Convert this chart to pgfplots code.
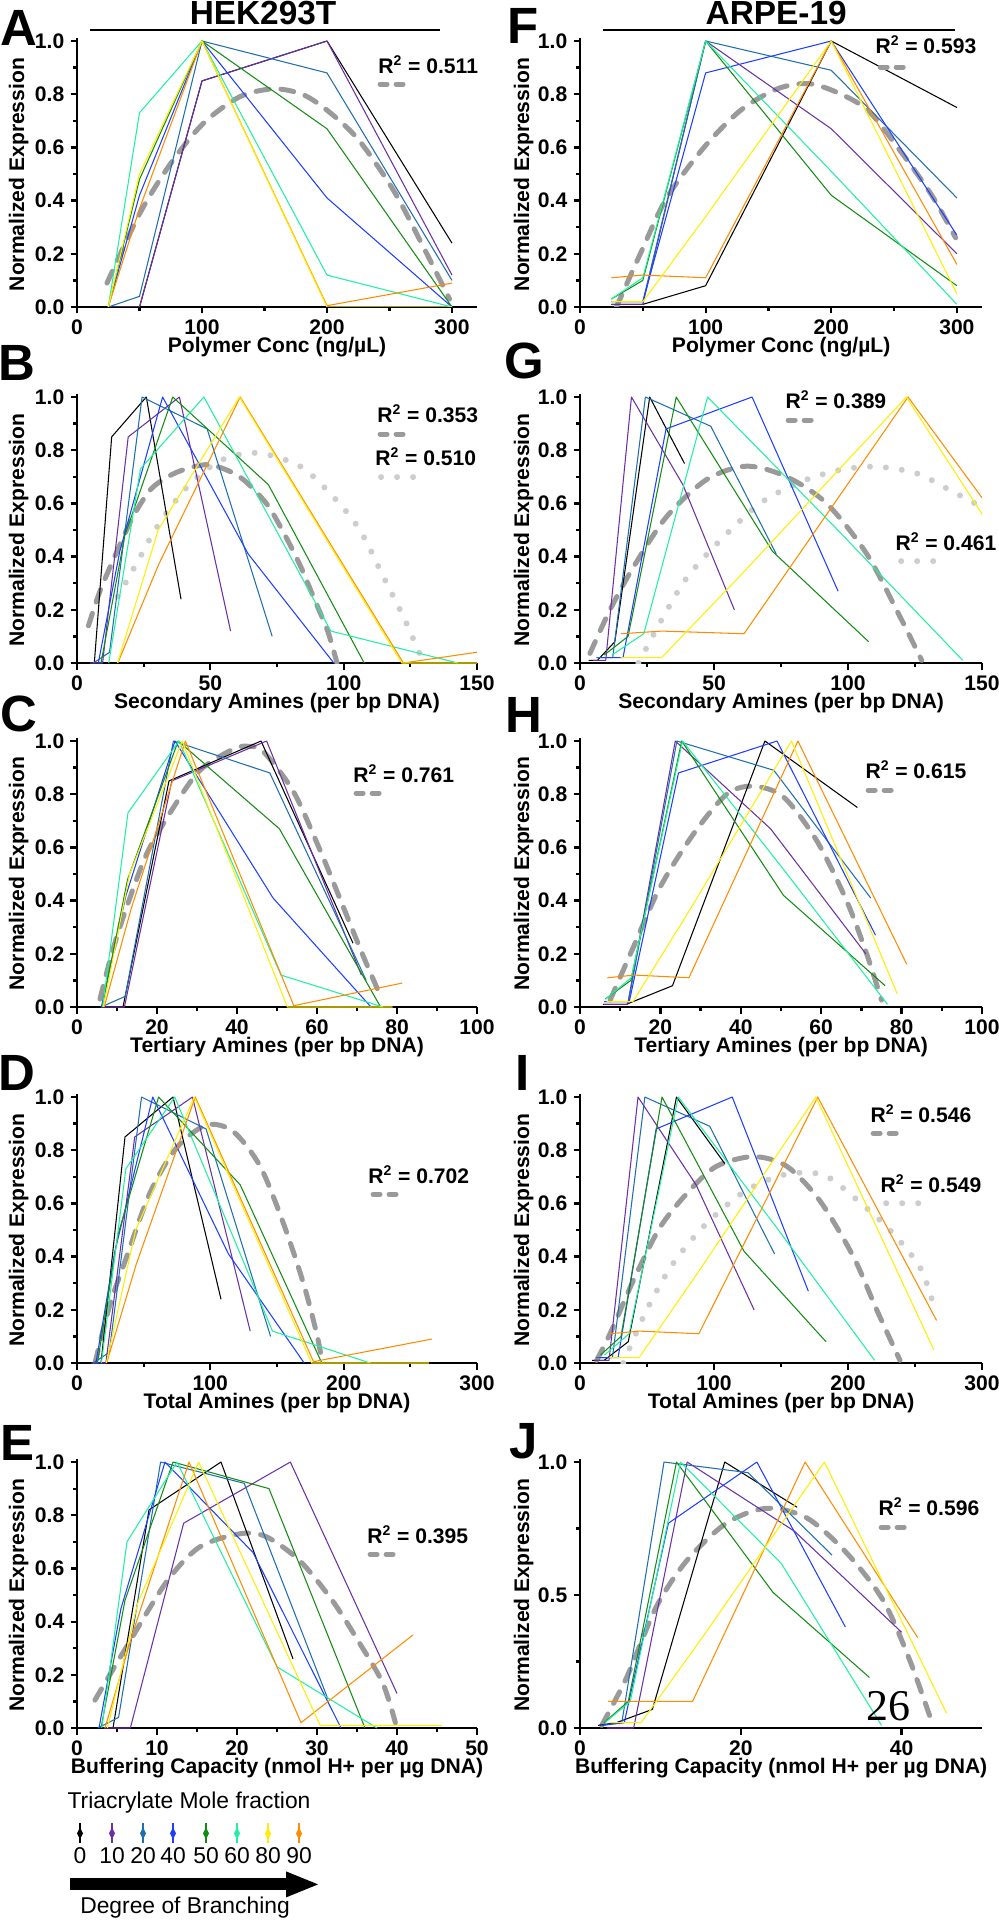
\documentclass[border=0pt]{standalone}
\usepackage{fontspec}
\setmainfont{Liberation Sans}
\newfontfamily\seriffont{Liberation Serif}
\usepackage{pgfplots}
\pgfplotsset{compat=1.18}

\definecolor{c0}{HTML}{000000}
\definecolor{c10}{HTML}{6B2FA6}
\definecolor{c20}{HTML}{1F6FB0}
\definecolor{c40}{HTML}{1F3FFF}
\definecolor{c50}{HTML}{148C14}
\definecolor{c60}{HTML}{20F0A0}
\definecolor{c80}{HTML}{FFEE00}
\definecolor{c90}{HTML}{FF8C00}
\definecolor{fitdark}{HTML}{9A9A9A}
\definecolor{fitlight}{HTML}{CDCDCD}

\newcommand{\fs}[1]{\fontsize{#1}{#1}\selectfont}

\pgfplotsset{
  panel/.style={
    scale only axis, width=8cm, height=5.373cm, anchor=south west,
    xmin=0, ymin=0, ymax=1.01,
    axis x line*=bottom, axis y line*=left,
    axis line style={-, line width=0.5mm},
    ytick={0,0.2,0.4,0.6,0.8,1.0}, minor ytick={0.1,0.3,0.5,0.7,0.9},
    tick align=outside,
    major tick length=1.3mm, minor tick length=0.8mm,
    every tick/.style={black, line width=0.45mm},
    tick label style={font=\bfseries\fs{12}},
    /pgf/number format/assume math mode=true,
    yticklabel style={/pgf/number format/fixed, /pgf/number format/fixed zerofill, /pgf/number format/precision=1},
    every axis plot/.append style={line width=0.6pt, line join=round},
  },
  fitA/.style={fitdark, line width=1mm, dash pattern=on 2.6mm off 2.4mm, line cap=round, smooth},
  fitB/.style={fitlight, line width=1.2mm, dash pattern=on 0pt off 3.2mm, line cap=round, smooth},
}

\begin{document}
\begin{tikzpicture}
\path[use as bounding box] (0,0) rectangle (19.98,-38.4);

% ---------- A: HEK293T, polymer conc
\begin{axis}[panel, at={(1.54cm,-6.14cm)}, xmax=320, xtick={0,100,200,300}, minor xtick={50,150,250}]
\addplot[fitA] coordinates {(24,0.09)(50,0.35)(75,0.54)(101,0.69)(130,0.79)(157,0.82)(180,0.80)(200,0.74)(225,0.63)(253,0.44)(275,0.245)(298,0.03)};
\addplot[c0] coordinates {(25,0)(50,0)(100,0.85)(200,1.0)(300,0.24)};
\addplot[c10] coordinates {(25,0)(50,0)(100,0.85)(200,1.0)(300,0.12)};
\addplot[c20] coordinates {(25,0)(50,0.04)(100,1.0)(200,0.88)(300,0.10)};
\addplot[c40] coordinates {(25,0)(50,0.42)(100,1.0)(200,0.41)(300,0)};
\addplot[c50] coordinates {(25,0)(50,0.48)(100,1.0)(200,0.67)(300,0)};
\addplot[c60] coordinates {(25,0)(50,0.73)(100,1.0)(200,0.12)(300,0)};
\addplot[c90] coordinates {(25,0)(50,0.37)(100,1.0)(200,0.005)(300,0.09)};
\addplot[c80] coordinates {(25,0)(50,0.50)(100,1.0)(200,0)(300,0)};
\end{axis}

% ---------- B: HEK293T, secondary amines
\begin{axis}[panel, at={(1.54cm,-13.26cm)}, xmax=150, xtick={0,50,100,150}, minor xtick={25,75,125}]
\addplot[fitB] coordinates {(15.3,0.25)(22.4,0.375)(29.9,0.51)(41.1,0.66)(53.6,0.76)(67.4,0.79)(83.6,0.74)(96.1,0.625)(106.1,0.5)(114.9,0.324)(122.4,0.174)(127.4,0.06)(130,0)};
\addplot[fitA] coordinates {(4.3,0.14)(8.6,0.27)(15,0.42)(21,0.55)(27.4,0.65)(34,0.70)(41,0.73)(50,0.745)(61,0.70)(71,0.60)(78,0.48)(84,0.36)(89,0.24)(94,0.12)(97.5,0)};
\addplot[c0] coordinates {(3.25,0)(6.5,0)(13,0.85)(26,1.0)(39,0.24)};
\addplot[c10] coordinates {(4.8,0)(9.6,0)(19.2,0.85)(38.4,1.0)(57.6,0.12)};
\addplot[c20] coordinates {(6.1,0)(12.2,0.04)(24.4,1.0)(48.8,0.88)(73.2,0.10)};
\addplot[c40] coordinates {(8.0,0)(16.05,0.42)(32.1,1.0)(64.2,0.41)(96.3,0)};
\addplot[c50] coordinates {(9.0,0)(17.95,0.48)(35.9,1.0)(71.8,0.67)(107.7,0)};
\addplot[c60] coordinates {(11.9,0)(23.8,0.73)(47.6,1.0)(95.2,0.12)(142.8,0)};
\addplot[c90] coordinates {(15.3,0)(30.6,0.37)(61.2,1.0)(122.4,0)(183.6,0.09)};
\addplot[c80] coordinates {(15.2,0)(30.45,0.50)(60.9,1.0)(121.8,0)(182.7,0)};
\end{axis}

% ---------- C: HEK293T, tertiary amines
\begin{axis}[panel, at={(1.54cm,-20.14cm)}, xmax=100, xtick={0,20,40,60,80,100}, minor xtick={10,30,50,70,90}]
\addplot[fitA] coordinates {(5.75,0.03)(8.5,0.19)(11.6,0.34)(17.4,0.575)(24.1,0.75)(30.75,0.89)(39.1,0.97)(43,0.98)(46.6,0.96)(54.1,0.81)(60.75,0.59)(66.6,0.375)(71.6,0.19)(76.2,0.03)};
\addplot[c0] coordinates {(5.75,0)(11.5,0)(23,0.85)(46,1.0)(69,0.24)};
\addplot[c10] coordinates {(5.9,0)(11.85,0)(23.7,0.85)(47.4,1.0)(71.1,0.12)};
\addplot[c20] coordinates {(6.0,0)(12.05,0.04)(24.1,1.0)(48.2,0.88)(72.3,0.10)};
\addplot[c40] coordinates {(6.1,0)(12.25,0.42)(24.5,1.0)(49,0.41)(73.5,0)};
\addplot[c50] coordinates {(6.3,0)(12.65,0.48)(25.3,1.0)(50.6,0.67)(75.9,0)};
\addplot[c60] coordinates {(6.4,0)(12.75,0.73)(25.5,1.0)(51,0.12)(76.5,0)};
\addplot[c90] coordinates {(6.8,0)(13.55,0.37)(27.1,1.0)(54.2,0.005)(81.3,0.09)};
\addplot[c80] coordinates {(6.6,0)(13.15,0.50)(26.3,1.0)(52.6,0)(78.9,0)};
\end{axis}

% ---------- D: HEK293T, total amines
\begin{axis}[panel, at={(1.54cm,-27.26cm)}, xmax=300, xtick={0,100,200,300}, minor xtick={50,150,250}]
\addplot[fitA] coordinates {(13.5,0)(24.75,0.22)(37.3,0.40)(54.75,0.64)(74.8,0.81)(97.3,0.895)(117.2,0.87)(137.3,0.74)(154.8,0.525)(169.8,0.30)(179.8,0.11)(184,0)};
\addplot[c0] coordinates {(9,0)(18,0)(36,0.85)(72,1.0)(108,0.24)};
\addplot[c10] coordinates {(10.8,0)(21.65,0)(43.3,0.85)(86.6,1.0)(129.9,0.12)};
\addplot[c20] coordinates {(12.1,0)(24.2,0.04)(48.4,1.0)(96.8,0.88)(145.2,0.10)};
\addplot[c40] coordinates {(14.2,0)(28.4,0.42)(56.8,1.0)(113.6,0.41)(170.4,0)};
\addplot[c50] coordinates {(15.3,0)(30.6,0.48)(61.2,1.0)(122.4,0.67)(183.6,0)};
\addplot[c60] coordinates {(18.3,0)(36.65,0.73)(73.3,1.0)(146.6,0.12)(219.9,0)};
\addplot[c90] coordinates {(22.2,0)(44.35,0.37)(88.7,1.0)(177.4,0.005)(266.1,0.09)};
\addplot[c80] coordinates {(22,0)(44,0.50)(88,1.0)(176,0)(264,0)};
\end{axis}

% ---------- E: HEK293T, buffering capacity
\begin{axis}[panel, at={(1.54cm,-34.56cm)}, xmax=50, xtick={0,10,20,30,40,50}, minor xtick={5,15,25,35,45}]
\addplot[fitA] coordinates {(2.24,0.105)(6.2,0.306)(11.2,0.55)(15.3,0.68)(20.3,0.73)(23.6,0.72)(27.8,0.63)(31.9,0.48)(35.3,0.32)(38.2,0.17)(39.8,0.02)};
\addplot[c0] coordinates {(2.25,0)(4.5,0)(9,0.82)(18,1.0)(27,0.26)};
\addplot[c10] coordinates {(3.33,0)(6.67,0)(13.33,0.77)(26.67,1.0)(40,0.13)};
\addplot[c20] coordinates {(2.6,0)(5.2,0.04)(10.45,1.0)(20.9,0.92)(31.35,0.11)};
\addplot[c40] coordinates {(2.75,0)(5.5,0.45)(11,1.0)(22,0.66)(33,0)};
\addplot[c50] coordinates {(3,0)(6,0.48)(12,1.0)(24,0.90)(36,0)};
\addplot[c60] coordinates {(3.1,0)(6.25,0.70)(12.5,1.0)(25,0.23)(37.5,0)};
\addplot[c90] coordinates {(3.5,0)(7,0.36)(14,1.0)(28,0.02)(42,0.35)};
\addplot[c80] coordinates {(3.8,0)(7.6,0.47)(15.2,1.0)(30.4,0.01)(45.6,0.01)};
\end{axis}

% ---------- F: ARPE-19, polymer conc
\begin{axis}[panel, width=8.04cm, at={(11.6cm,-6.14cm)}, xmax=320, xtick={0,100,200,300}, minor xtick={50,150,250}]
\addplot[fitA] coordinates {(29,0)(48,0.2)(69,0.41)(98.7,0.60)(128,0.74)(157,0.82)(181,0.84)(203,0.81)(229,0.74)(256,0.58)(280,0.42)(299,0.26)};
\addplot[c0] coordinates {(25,0.01)(50,0.01)(100,0.08)(200,1.0)(300,0.75)};
\addplot[c10] coordinates {(25,0.01)(50,0.01)(100,1.0)(200,0.67)(300,0.20)};
\addplot[c20] coordinates {(25,0.02)(50,0.02)(100,1.0)(200,0.89)(300,0.41)};
\addplot[c40] coordinates {(25,0.02)(50,0.02)(100,0.88)(200,1.0)(300,0.27)};
\addplot[c50] coordinates {(25,0.03)(50,0.10)(100,1.0)(200,0.42)(300,0.08)};
\addplot[c60] coordinates {(25,0.03)(50,0.11)(100,1.0)(200,0.51)(300,0.01)};
\addplot[c90] coordinates {(25,0.11)(50,0.12)(100,0.11)(200,1.0)(300,0.16)};
\addplot[c80] coordinates {(25,0.02)(50,0.02)(100,0.34)(200,1.0)(300,0.05)};
\end{axis}

% ---------- G: ARPE-19, secondary amines
\begin{axis}[panel, width=8.04cm, at={(11.6cm,-13.26cm)}, xmax=150, xtick={0,50,100,150}, minor xtick={25,75,125}]
\addplot[fitB] coordinates {(21.8,0)(31.1,0.174)(39.8,0.32)(52.2,0.46)(67.2,0.60)(82.1,0.68)(97,0.726)(110.7,0.738)(125.6,0.713)(138,0.65)(149.3,0.59)};
\addplot[fitA] coordinates {(3.7,0.036)(11.2,0.2)(19.9,0.36)(32.3,0.55)(47.3,0.69)(62.2,0.74)(77.1,0.70)(92,0.60)(107,0.41)(119.4,0.174)(127.5,0.01)};
\addplot[c0] coordinates {(3.25,0.01)(6.5,0.01)(13,0.08)(26,1.0)(39,0.75)};
\addplot[c10] coordinates {(4.8,0.01)(9.6,0.01)(19.2,1.0)(38.4,0.67)(57.6,0.20)};
\addplot[c20] coordinates {(6.1,0.02)(12.2,0.02)(24.4,1.0)(48.8,0.89)(73.2,0.41)};
\addplot[c40] coordinates {(8.0,0.02)(16.05,0.02)(32.1,0.88)(64.2,1.0)(96.3,0.27)};
\addplot[c50] coordinates {(9.0,0.03)(17.95,0.10)(35.9,1.0)(71.8,0.42)(107.7,0.08)};
\addplot[c60] coordinates {(11.9,0.03)(23.8,0.11)(47.6,1.0)(95.2,0.51)(142.8,0.01)};
\addplot[c90] coordinates {(15.3,0.11)(30.6,0.12)(61.2,0.11)(122.4,1.0)(183.6,0.16)};
\addplot[c80] coordinates {(15.2,0.02)(30.45,0.02)(60.9,0.34)(121.8,1.0)(182.7,0.05)};
\end{axis}

% ---------- H: ARPE-19, tertiary amines
\begin{axis}[panel, width=8.04cm, at={(11.6cm,-20.14cm)}, xmax=100, xtick={0,20,40,60,80,100}, minor xtick={10,30,50,70,90}]
\addplot[fitA] coordinates {(7.5,0.026)(13.3,0.226)(19.9,0.45)(28.2,0.65)(36.5,0.80)(43.1,0.83)(50.6,0.79)(58.9,0.625)(66.3,0.40)(71.3,0.2)(75,0.026)};
\addplot[c0] coordinates {(5.75,0.01)(11.5,0.01)(23,0.08)(46,1.0)(69,0.75)};
\addplot[c10] coordinates {(5.9,0.01)(11.85,0.01)(23.7,1.0)(47.4,0.67)(71.1,0.20)};
\addplot[c20] coordinates {(6.0,0.02)(12.05,0.02)(24.1,1.0)(48.2,0.89)(72.3,0.41)};
\addplot[c40] coordinates {(6.1,0.02)(12.25,0.02)(24.5,0.88)(49,1.0)(73.5,0.27)};
\addplot[c50] coordinates {(6.3,0.03)(12.65,0.10)(25.3,1.0)(50.6,0.42)(75.9,0.08)};
\addplot[c60] coordinates {(6.4,0.03)(12.75,0.11)(25.5,1.0)(51,0.51)(76.5,0.01)};
\addplot[c90] coordinates {(6.8,0.11)(13.55,0.12)(27.1,0.11)(54.2,1.0)(81.3,0.16)};
\addplot[c80] coordinates {(6.6,0.02)(13.15,0.02)(26.3,0.34)(52.6,1.0)(78.9,0.05)};
\end{axis}

% ---------- I: ARPE-19, total amines
\begin{axis}[panel, width=8.04cm, at={(11.6cm,-27.26cm)}, xmax=300, xtick={0,100,200,300}, minor xtick={50,150,250}]
\addplot[fitB] coordinates {(32.3,0)(49.8,0.2)(69.6,0.375)(94.5,0.525)(124.4,0.65)(154.2,0.71)(181.6,0.707)(204,0.625)(231.3,0.50)(253.7,0.36)(263.7,0.22)};
\addplot[fitA] coordinates {(12.4,0.01)(22.4,0.11)(39.8,0.31)(59.7,0.51)(82,0.65)(102,0.74)(129.3,0.776)(154.2,0.74)(179,0.61)(204,0.40)(221.4,0.2)(238.8,0.01)};
\addplot[c0] coordinates {(9,0.01)(18,0.01)(36,0.08)(72,1.0)(108,0.75)};
\addplot[c10] coordinates {(10.8,0.01)(21.65,0.01)(43.3,1.0)(86.6,0.67)(129.9,0.20)};
\addplot[c20] coordinates {(12.1,0.02)(24.2,0.02)(48.4,1.0)(96.8,0.89)(145.2,0.41)};
\addplot[c40] coordinates {(14.2,0.02)(28.4,0.02)(56.8,0.88)(113.6,1.0)(170.4,0.27)};
\addplot[c50] coordinates {(15.3,0.03)(30.6,0.10)(61.2,1.0)(122.4,0.42)(183.6,0.08)};
\addplot[c60] coordinates {(18.3,0.03)(36.65,0.11)(73.3,1.0)(146.6,0.51)(219.9,0.01)};
\addplot[c90] coordinates {(22.2,0.11)(44.35,0.12)(88.7,0.11)(177.4,1.0)(266.1,0.16)};
\addplot[c80] coordinates {(22,0.02)(44,0.02)(88,0.34)(176,1.0)(264,0.05)};
\end{axis}

% ---------- J: ARPE-19, buffering capacity
\begin{axis}[panel, width=8.04cm, at={(11.6cm,-34.56cm)}, xmax=50, xtick={0,20,40}, minor xtick={},
  ytick={0,0.5,1.0}, minor ytick={0.25,0.75}]
\addplot[fitA] coordinates {(2.7,0.01)(5.8,0.19)(9.5,0.456)(13.3,0.63)(18.2,0.77)(23.2,0.826)(28.2,0.79)(33.2,0.657)(37.7,0.48)(41,0.256)(43.9,0.01)};
\addplot[c0] coordinates {(2.25,0.01)(4.5,0.02)(9,0.07)(18,1.0)(27,0.83)};
\addplot[c10] coordinates {(3.33,0)(6.67,0)(13.33,1.0)(26.67,0.74)(40,0.36)};
\addplot[c20] coordinates {(2.6,0.01)(5.2,0.02)(10.45,1.0)(20.9,0.96)(31.35,0.65)};
\addplot[c40] coordinates {(2.75,0.01)(5.5,0.02)(11,0.77)(22,1.0)(33,0.38)};
\addplot[c50] coordinates {(3,0.02)(6,0.10)(12,1.0)(24,0.51)(36,0.19)};
\addplot[c60] coordinates {(3.1,0.02)(6.25,0.10)(12.5,1.0)(25,0.62)(37.5,0.01)};
\addplot[c90] coordinates {(3.5,0.1)(7,0.1)(14,0.1)(28,1.0)(42,0.34)};
\addplot[c80] coordinates {(3.8,0.02)(7.6,0.02)(15.2,0.34)(30.4,1.0)(45.6,0.055)};
\end{axis}

% ---------- labels, R^2 keys and the branching legend (pixel-like units)
\begin{scope}[x=0.02cm, y=-0.02cm]
\node[anchor=base, inner sep=0, font=\bfseries\fs{19}] at (263,25) {HEK293T};
\node[anchor=base, inner sep=0, font=\bfseries\fs{19}] at (776,25) {ARPE-19};
\draw[line width=0.4mm] (90,30) -- (440,30);
\draw[line width=0.4mm] (603,30) -- (955,30);

\foreach \t/\x/\y in {A/0/45, B/-2/380, C/0/731, D/-2/1090, E/0/1460,
                      F/507/43, G/504/378, H/505/732, I/515/1090, J/509/1458}
  \node[anchor=base west, inner sep=0, font=\bfseries\fs{29}] at (\x,\y) {\t};

\foreach \y in {174.5,530,873.5,1230,1595} {
  \node[rotate=90, anchor=base, inner sep=0, font=\bfseries\fs{12}] at (24,\y) {Normalized Expression};
  \node[rotate=90, anchor=base, inner sep=0, font=\bfseries\fs{12}] at (529,\y) {Normalized Expression};
}
\foreach \y/\t in {352/{Polymer Conc (ng/µL)}, 708/{Secondary Amines (per bp DNA)},
                   1052/{Tertiary Amines (per bp DNA)}, 1408/{Total Amines (per bp DNA)},
                   1773/{Buffering Capacity (nmol H+ per µg DNA)}} {
  \node[anchor=base, inner sep=0, font=\bfseries\fs{12}] at (277,\y) {\t};
  \node[anchor=base, inner sep=0, font=\bfseries\fs{12}] at (781,\y) {\t};
}

% R^2 keys
\foreach \x/\y/\v in {378/73/0.511, 377/422/0.353, 353/782/0.761, 368/1183/0.702, 367/1543/0.395,
                      875/53/0.593, 785/408/0.389, 865/778/0.615, 870/1122/0.546, 878/1515/0.596}
  \node[anchor=base west, inner sep=0, font=\bfseries\fs{12}] at (\x,\y) {R\textsuperscript{2} = \v};
\foreach \x/\y/\v in {375/465/0.510, 895/550/0.461, 880/1192/0.549}
  \node[anchor=base west, inner sep=0, font=\bfseries\fs{12}] at (\x,\y) {R\textsuperscript{2} = \v};
\foreach \x/\y in {377/84, 377/434, 353/793, 370/1194, 367/1554, 877/67, 785/420, 865/790, 870/1133, 878/1527} {
  \draw[fitdark, line width=1mm, line cap=round] ({\x+3},\y) -- ({\x+10},\y);
  \draw[fitdark, line width=1mm, line cap=round] ({\x+19},\y) -- ({\x+26},\y);
}
\foreach \x/\y in {378/477, 898/561, 883/1203}
  \draw[fitlight, line width=1.2mm, line cap=round, dash pattern=on 0pt off 3.2mm] ({\x+3},\y) -- ({\x+36},\y);

% branching legend
\node[anchor=base, inner sep=0, font=\fs{13}] at (189,1808) {Triacrylate Mole fraction};
\foreach \c/\x/\n in {c0/80/0, c10/112/10, c20/143/20, c40/173/40, c50/206/50, c60/237/60, c80/268/80, c90/299/90} {
  \draw[\c, line width=0.4mm] (\x,1823) -- (\x,1843);
  \fill[\c] (\x,1827) -- ({\x+3},1833) -- (\x,1839) -- ({\x-3},1833) -- cycle;
  \node[anchor=base, inner sep=0, font=\fs{13}] at (\x,1863) {\n};
}
\fill (70,1878) rectangle (288,1890);
\fill (286,1871) -- (318,1884) -- (286,1897) -- cycle;
\node[anchor=base, inner sep=0, font=\fs{13}] at (185,1913) {Degree of Branching};

\node[anchor=base west, inner sep=0, font=\seriffont\fs{25}] at (866,1720) {26};
\end{scope}
\end{tikzpicture}
\end{document}
